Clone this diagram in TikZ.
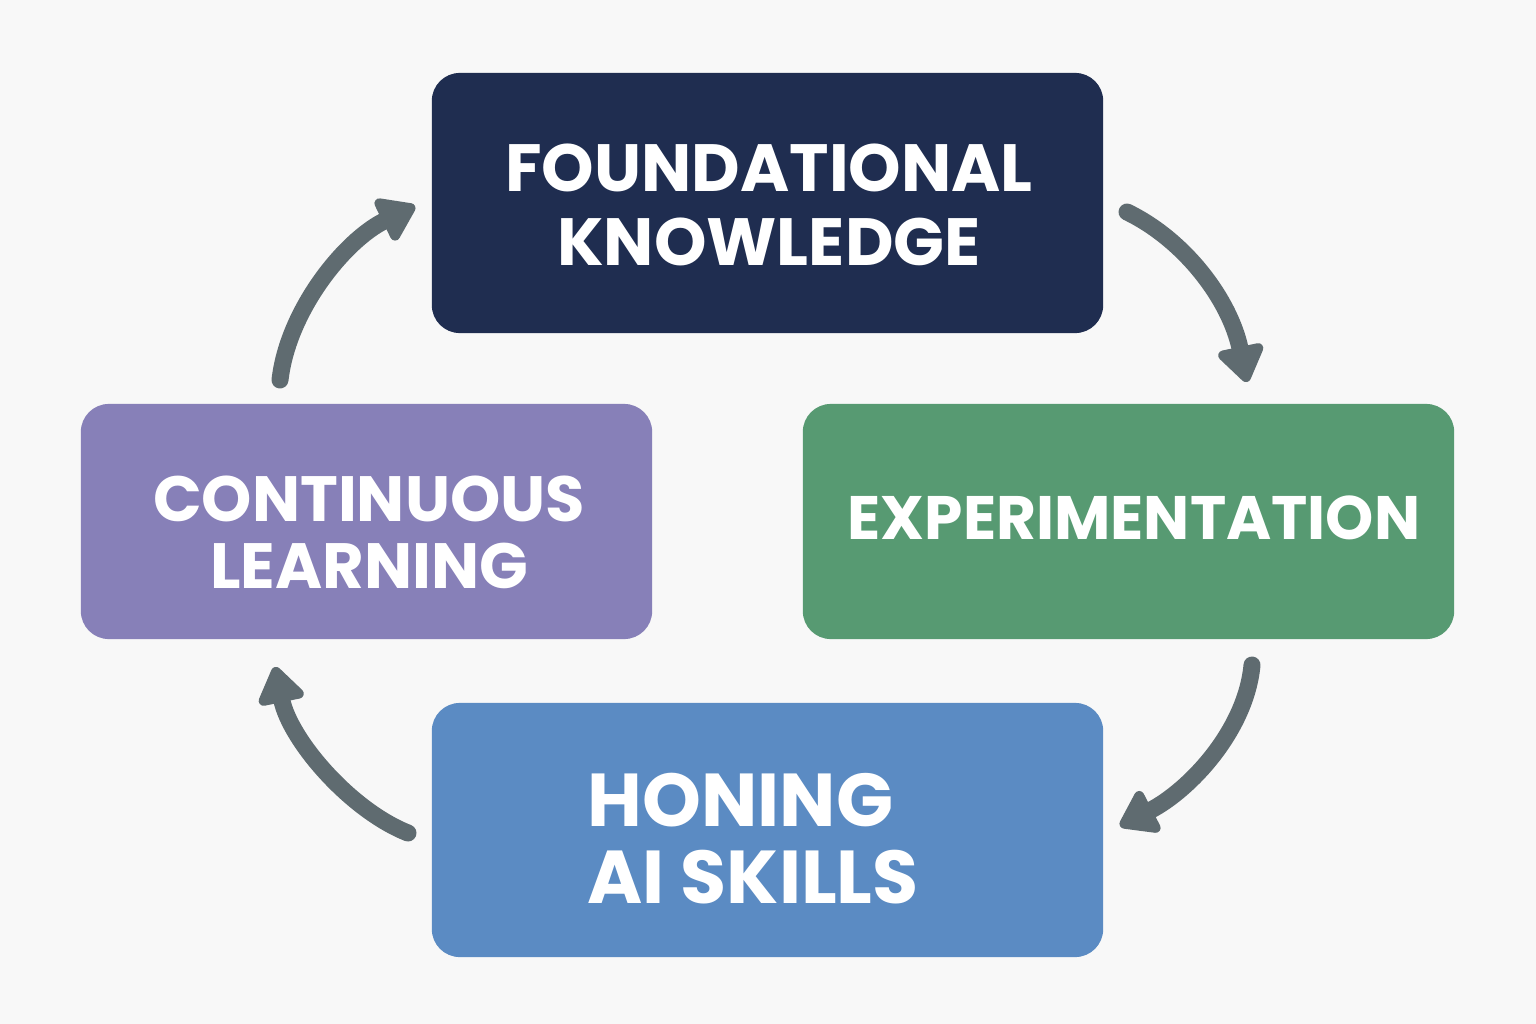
\documentclass[tikz,border=0pt]{standalone}
\usepackage{fontspec}
\setmainfont{Poppins}
\usetikzlibrary{arrows.meta}

\definecolor{bgcol}{HTML}{F8F8F8}
\definecolor{navy}{HTML}{1F2D50}
\definecolor{leaf}{HTML}{579A72}
\definecolor{lilac}{HTML}{8780B8}
\definecolor{sky}{HTML}{5B8BC3}
\definecolor{slate}{HTML}{5F6B70}

\begin{document}
\begin{tikzpicture}[x=0.01cm, y=-0.01cm,
  box/.style={rectangle, rounded corners=0.28cm, inner sep=0pt},
  tag/.style={text=white, font=\bfseries, inner sep=0pt},
  flow/.style={draw=slate, line width=0.17cm, line cap=round,
    -{Triangle[length=0.4cm 0 0, width=0.52cm 0 0, fill=slate, line join=round]}}]
\fill [bgcol] (0,0) rectangle (1536,1024);

\node (found) [box, fill=navy, minimum width=6.71cm, minimum height=2.6cm] at (767.5,203) {};
\node (exper) [box, fill=leaf, minimum width=6.51cm, minimum height=2.35cm] at (1128.5,521.5) {};
\node (cont) [box, fill=lilac, minimum width=5.71cm, minimum height=2.35cm] at (366.5,521.5) {};
\node (hone) [box, fill=sky, minimum width=6.71cm, minimum height=2.54cm] at (767.5,830) {};

\node (foundtxt) [tag, align=center, font=\bfseries\fontsize{19}{20.8}\selectfont] at (769,205) {FOUNDATIONAL\\KNOWLEDGE};
\node (expertxt) [tag, font=\bfseries\fontsize{17.45}{19}\selectfont] at (1134,518) {EXPERIMENTATION};
\node (conttxt) [tag, align=center, font=\bfseries\fontsize{18.2}{19.1}\selectfont] at (369,532) {CONTINUOUS\\LEARNING};
\node (honetxt) [tag, align=left, anchor=west, font=\bfseries\fontsize{21.3}{21.9}\selectfont] at (587,839) {HONING\\AI SKILLS};

\coordinate (a1) at (1127,212);
\coordinate (b1) at (1247,382);
\coordinate (a2) at (1252,665);
\coordinate (b2) at (1120,826);
\coordinate (a3) at (408,833);
\coordinate (b3) at (275,667);
\coordinate (a4) at (280,380);
\coordinate (b4) at (415,206);

\draw [flow] (a1) .. controls (1185,240) and (1230,300) .. (b1);
\draw [flow] (a2) .. controls (1246,730) and (1190,790) .. (b2);
\draw [flow] (a3) .. controls (350,810) and (290,740) .. (b3);
\draw [flow] (a4) .. controls (288,310) and (345,240) .. (b4);
\end{tikzpicture}
\end{document}
